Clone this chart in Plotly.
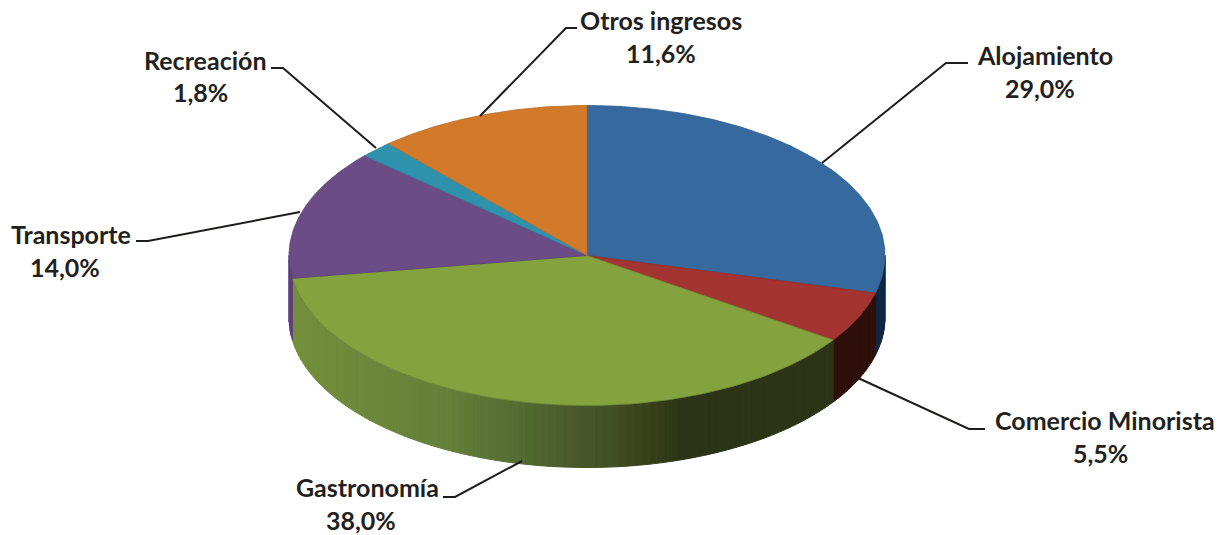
import numpy as np
import plotly.graph_objects as go

# slices, clockwise from 12 o'clock
labels = ["Alojamiento", "Comercio Minorista", "Gastronomía", "Transporte", "Recreación", "Otros ingresos"]
values = [29.0, 5.5, 38.0, 14.0, 1.8, 11.6]
top_colors = ["#366a9f", "#a33431", "#84a23e", "#6b4c86", "#2f92ad", "#d27a29"]
edge_colors = ["#2f5d8c", "#8e2e2b", "#6f8a35", "#5c4173", "#287e95", "#b86b24"]

# label placement in page pixels
name_pos = [(1045, 55), (1105, 420), (367, 487), (71, 234), (205, 60), (661, 20)]
pct_pos = [(1040, 88), (1100, 453), (361, 520), (65, 267), (200, 92), (661, 53)]
leaders = [
    [(822, 163), (946, 63), (968, 63)],
    [(858, 378), (969, 429), (985, 429)],
    [(522, 461), (455, 497), (443, 497)],
    [(300, 212), (148, 241), (136, 241)],
    [(376, 148), (283, 68), (271, 68)],
    [(480, 116), (566, 28), (577, 28)],
]

# wall shading, (x position along the pie 0-1, colour)
wall_stops = [
    [(0.0, "#0f2743"), (1.0, "#0f2743")],
    [(0.0, "#2e0f0a"), (1.0, "#2e0f0a")],
    [(0.0, "#748f3c"), (0.29, "#64803a"), (0.457, "#4f6530"), (0.555, "#46552a"), (0.655, "#3a421b"), (0.72, "#2b3416"), (1.0, "#2b3416")],
    [(0.0, "#5d3f7a"), (1.0, "#5d3f7a")],
]

CX, CY, RX, RY, DEPTH = 587, 255.5, 298, 150, 62


def ellipse(t, dy=0):
    return CX + RX * np.sin(t), CY + dy - RY * np.cos(t)


def hex_rgb(c):
    return np.array([int(c[i:i + 2], 16) for i in (1, 3, 5)], dtype=float)


def shade(stops, pos):
    xs = [s[0] for s in stops]
    rgb = [np.interp(pos, xs, [hex_rgb(s[1])[k] for s in stops]) for k in range(3)]
    return "rgb(%d,%d,%d)" % tuple(rgb)


def poly(x, y, fill, line, width=1.0):
    return go.Scatter(x=x, y=y, mode="lines", fill="toself", fillcolor=fill,
                      line=dict(color=line, width=width), hoverinfo="skip", showlegend=False)


fig = go.Figure()

total = sum(values)
angles = np.concatenate(([0], np.cumsum(values))) / total * 2 * np.pi

# side walls only show on the front half of the pie
for i in range(len(values)):
    a0, a1 = max(angles[i], np.pi / 2), min(angles[i + 1], 3 * np.pi / 2)
    if a0 >= a1:
        continue
    steps = max(2, int((a1 - a0) / np.radians(1.5)))
    edges = np.linspace(a0, a1, steps + 1)
    for s0, s1 in zip(edges[:-1], edges[1:]):
        ts = np.linspace(s0, s1, 4)
        xt, yt = ellipse(ts)
        xb, yb = ellipse(ts[::-1], DEPTH)
        xx = np.concatenate((xt, xb, xt[:1]))
        yy = np.concatenate((yt, yb, yt[:1]))
        # shading runs from the slice's left end to its right end
        x_mid = CX + RX * np.sin((s0 + s1) / 2)
        xl, xr = sorted((ellipse(a0)[0], ellipse(a1)[0]))
        col = shade(wall_stops[min(i, len(wall_stops) - 1)], (x_mid - xl) / max(xr - xl, 1))
        fig.add_trace(poly(xx, yy, col, col, 1))

# top faces
for i, col in enumerate(top_colors):
    ts = np.linspace(angles[i], angles[i + 1], 120)
    xt, yt = ellipse(ts)
    xx = np.concatenate(([CX], xt, [CX]))
    yy = np.concatenate(([CY], yt, [CY]))
    fig.add_trace(poly(xx, yy, col, edge_colors[i], 0.8))

shapes = []
for pts in leaders:
    path = "M " + " L ".join(f"{x},{y}" for x, y in pts)
    shapes.append(dict(type="path", path=path, xref="x", yref="y",
                       line=dict(color="#1d1d1b", width=2)))

annotations = []
for name, val, p, q in zip(labels, values, name_pos, pct_pos):
    pct = f"{val:.1f}".replace(".", ",") + "%"
    for text, (x, y) in ((name, p), (pct, q)):
        annotations.append(dict(x=x, y=y, xref="x", yref="y", text=f"<b>{text}</b>", showarrow=False,
                                xanchor="center", yanchor="middle",
                                font=dict(family="Lato", size=25, color="#231f20")))

fig.update_layout(
    width=1228, height=535,
    margin=dict(l=0, r=0, t=0, b=0),
    paper_bgcolor="white", plot_bgcolor="white",
    xaxis=dict(range=[0, 1228], visible=False, fixedrange=True),
    yaxis=dict(range=[535, 0], visible=False, fixedrange=True),
    shapes=shapes, annotations=annotations, showlegend=False,
)

# page has a default body margin that would push the chart off by 8px
fig.write_html("out.html", config=dict(displayModeBar=False),
               post_script="document.body.style.margin='0';document.body.style.overflow='hidden';")
